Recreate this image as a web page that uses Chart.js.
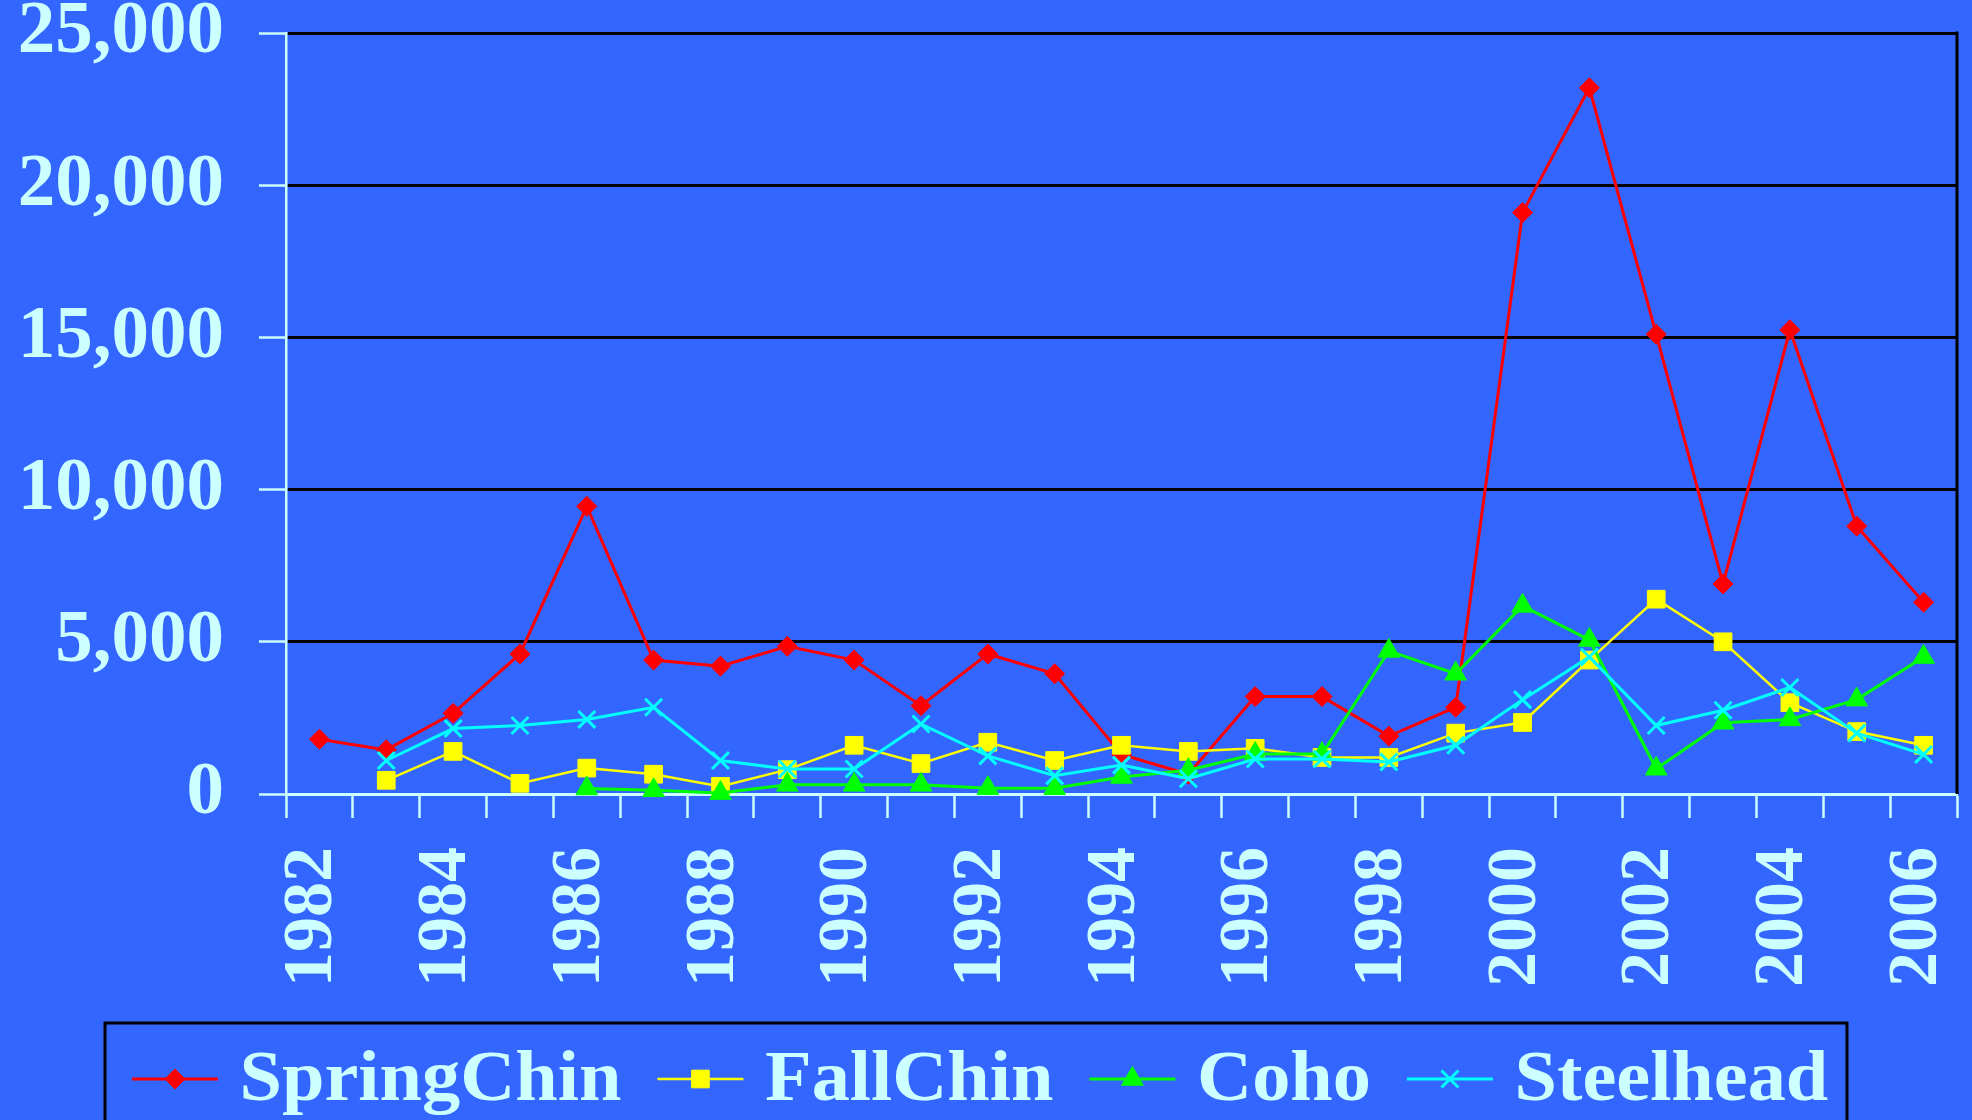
<!DOCTYPE html>
<html>
<head>
<meta charset="utf-8">
<title>Salmon and steelhead counts, 1982–2006</title>
<script src="https://cdn.jsdelivr.net/npm/chart.js@4/dist/chart.umd.min.js"></script>
<style>
  html, body { margin: 0; padding: 0; background: #3366FF; overflow: hidden; }
  canvas { display: block; }
</style>
</head>
<body>
<canvas id="fishChart" width="1972" height="1120"></canvas>
<script>
// Run years (one category per year)
const years = ['1982','1983','1984','1985','1986','1987','1988','1989','1990','1991','1992','1993',
               '1994','1995','1996','1997','1998','1999','2000','2001','2002','2003','2004','2005','2006'];
// Year labels printed under the axis
const yearLabelsShown = ['1982','1984','1986','1988','1990','1992','1994','1996','1998','2000','2002','2004','2006'];
// Value axis ticks
const valueTicks = [0, 5000, 10000, 15000, 20000, 25000];

// Counts per year
const springChin = [1800, 1450, 2650, 4600, 9450, 4400, 4200, 4850, 4400, 2900, 4600, 3950,
                    1300, 650, 3200, 3200, 1900, 2850, 19100, 23200, 15100, 6900, 15250, 8800, 6300];
const fallChin   = [null, 450, 1400, 350, 850, 650, 250, 800, 1600, 1000, 1700, 1100,
                    1600, 1400, 1500, 1200, 1200, 2000, 2350, 4400, 6400, 5000, 3000, 2050, 1600];
const coho       = [null, null, null, null, 180, 120, 30, 300, 300, 300, 190, 190,
                    560, 780, 1310, 1310, 4700, 3950, 6180, 5060, 830, 2340, 2450, 3100, 4500];
const steelhead  = [null, 1100, 2150, 2250, 2450, 2850, 1100, 820, 820, 2300, 1250, 600,
                    950, 500, 1150, 1150, 1050, 1600, 3100, 4500, 2250, 2750, 3500, 2000, 1300];

const TEXT = '#CCFFFF';
const FONT = '"Liberation Serif", "Times New Roman", serif';

// Black edge on the right side of the plot frame
const frameEdge = {
  id: 'frameEdge',
  beforeDatasetsDraw(chart) {
    const { ctx, chartArea: a } = chart;
    ctx.save();
    ctx.strokeStyle = '#000000';
    ctx.lineWidth = 3;
    ctx.beginPath();
    ctx.moveTo(a.right, a.top - 1.5);
    ctx.lineTo(a.right, a.bottom);
    ctx.stroke();
    ctx.restore();
  }
};

function drawMarker(ctx, style, r, x, y, fill, stroke, bw) {
  ctx.save();
  ctx.fillStyle = fill;
  ctx.strokeStyle = stroke;
  ctx.lineWidth = bw;
  ctx.beginPath();
  if (style === 'rectRot') {
    ctx.moveTo(x - r, y); ctx.lineTo(x, y - r); ctx.lineTo(x + r, y); ctx.lineTo(x, y + r);
    ctx.closePath(); ctx.fill(); ctx.stroke();
  } else if (style === 'rect') {
    const s = Math.SQRT1_2 * r;
    ctx.rect(x - s, y - s, 2 * s, 2 * s); ctx.fill(); ctx.stroke();
  } else if (style === 'triangle') {
    ctx.moveTo(x, y - r);
    ctx.lineTo(x + 0.866 * r, y + 0.5 * r);
    ctx.lineTo(x - 0.866 * r, y + 0.5 * r);
    ctx.closePath(); ctx.fill(); ctx.stroke();
  } else if (style === 'crossRot') {
    const d = Math.SQRT1_2 * r;
    ctx.moveTo(x - d, y - d); ctx.lineTo(x + d, y + d);
    ctx.moveTo(x + d, y - d); ctx.lineTo(x - d, y + d);
    ctx.stroke();
  }
  ctx.restore();
}

// Boxed series key along the bottom
const seriesKey = {
  id: 'seriesKey',
  afterDraw(chart) {
    const ctx = chart.ctx;
    ctx.save();
    ctx.strokeStyle = '#000000';
    ctx.lineWidth = 3;
    ctx.strokeRect(105, 1023, 1742, 200);
    ctx.font = `bold 71px ${FONT}`;
    ctx.textBaseline = 'alphabetic';
    const stretch = 1.075, yMid = 1079, base = 1100;
    let x = 132;
    chart.data.datasets.forEach(ds => {
      ctx.strokeStyle = ds.borderColor;
      ctx.lineWidth = ds.borderWidth;
      ctx.beginPath();
      ctx.moveTo(x, yMid);
      ctx.lineTo(x + 86, yMid);
      ctx.stroke();
      drawMarker(ctx, ds.pointStyle, ds.pointRadius, x + 43, yMid,
                 ds.pointBackgroundColor, ds.pointBorderColor, ds.pointBorderWidth);
      const tx = x + 107.6;
      ctx.save();
      ctx.translate(tx, base);
      ctx.scale(stretch, 1);
      ctx.fillStyle = TEXT;
      ctx.fillText(ds.label, 0, 0);
      ctx.restore();
      const w = ctx.measureText(ds.label).width * stretch;
      x = tx + w + 36;
    });
    ctx.restore();
  }
};

function build() {
  new Chart(document.getElementById('fishChart'), {
    type: 'line',
    data: {
      labels: years,
      datasets: [
        { label: 'SpringChin', data: springChin, borderColor: '#FF0000', backgroundColor: '#FF0000',
          borderWidth: 3, pointStyle: 'rectRot', pointRadius: 10,
          pointBackgroundColor: '#FF0000', pointBorderColor: '#FF0000', pointBorderWidth: 1,
          order: 3, clip: false, tension: 0 },
        { label: 'FallChin', data: fallChin, borderColor: '#FFFF00', backgroundColor: '#FFFF00',
          borderWidth: 2.5, pointStyle: 'rect', pointRadius: 12.5,
          pointBackgroundColor: '#FFFF00', pointBorderColor: '#FFFF00', pointBorderWidth: 1,
          order: 2, clip: false, tension: 0 },
        { label: 'Coho', data: coho, borderColor: '#00FF00', backgroundColor: '#00FF00',
          borderWidth: 3, pointStyle: 'triangle', pointRadius: 12.5,
          pointBackgroundColor: '#00FF00', pointBorderColor: '#00FF00', pointBorderWidth: 1,
          order: 1, clip: false, tension: 0 },
        { label: 'Steelhead', data: steelhead, borderColor: '#00FFFF', backgroundColor: '#00FFFF',
          borderWidth: 3, pointStyle: 'crossRot', pointRadius: 12,
          pointBackgroundColor: '#00FFFF', pointBorderColor: '#00FFFF', pointBorderWidth: 3,
          order: 0, clip: false, tension: 0 }
      ]
    },
    options: {
      responsive: false,
      animation: false,
      events: [],
      layout: { padding: { top: 33, right: 12, bottom: 0, left: 0 } },
      plugins: { legend: { display: false }, tooltip: { enabled: false } },
      scales: {
        x: {
          type: 'category',
          offset: true,
          grid: { display: true, offset: true, drawOnChartArea: false, drawTicks: true,
                  tickLength: 24, tickColor: TEXT, tickWidth: 2.5 },
          border: { display: true, color: TEXT, width: 3 },
          ticks: {
            autoSkip: false, minRotation: 90, maxRotation: 90, padding: 29, labelOffset: -6,
            color: TEXT, font: { family: FONT, size: 70, weight: 'bold' },
            callback(v) {
              const y = this.getLabelForValue(v);
              return yearLabelsShown.includes(y) ? y : '';
            }
          },
          afterFit(s) { s.height = 326; s.paddingLeft = 0; s.paddingRight = 0; }
        },
        y: {
          min: 0, max: 25000,
          afterBuildTicks(s) { s.ticks = valueTicks.map(v => ({ value: v })); },
          grid: {
            color: c => (c.tick && c.tick.value === 0) ? 'rgba(0,0,0,0)' : '#000000',
            lineWidth: 3, drawTicks: true, tickLength: 27, tickColor: TEXT, tickWidth: 2.5
          },
          border: { display: true, color: TEXT, width: 2.5 },
          ticks: {
            color: TEXT, padding: 35,
            font: { family: FONT, size: 75, weight: 'bold' },
            callback: v => Number(v).toLocaleString('en-US')
          },
          afterFit(s) { s.width = 286; s.paddingTop = 0; s.paddingBottom = 0; }
        }
      }
    },
    plugins: [frameEdge, seriesKey]
  });
}

if (document.fonts && document.fonts.load) {
  document.fonts.load(`bold 70px ${FONT}`).then(build, build);
} else {
  build();
}
</script>
</body>
</html>
